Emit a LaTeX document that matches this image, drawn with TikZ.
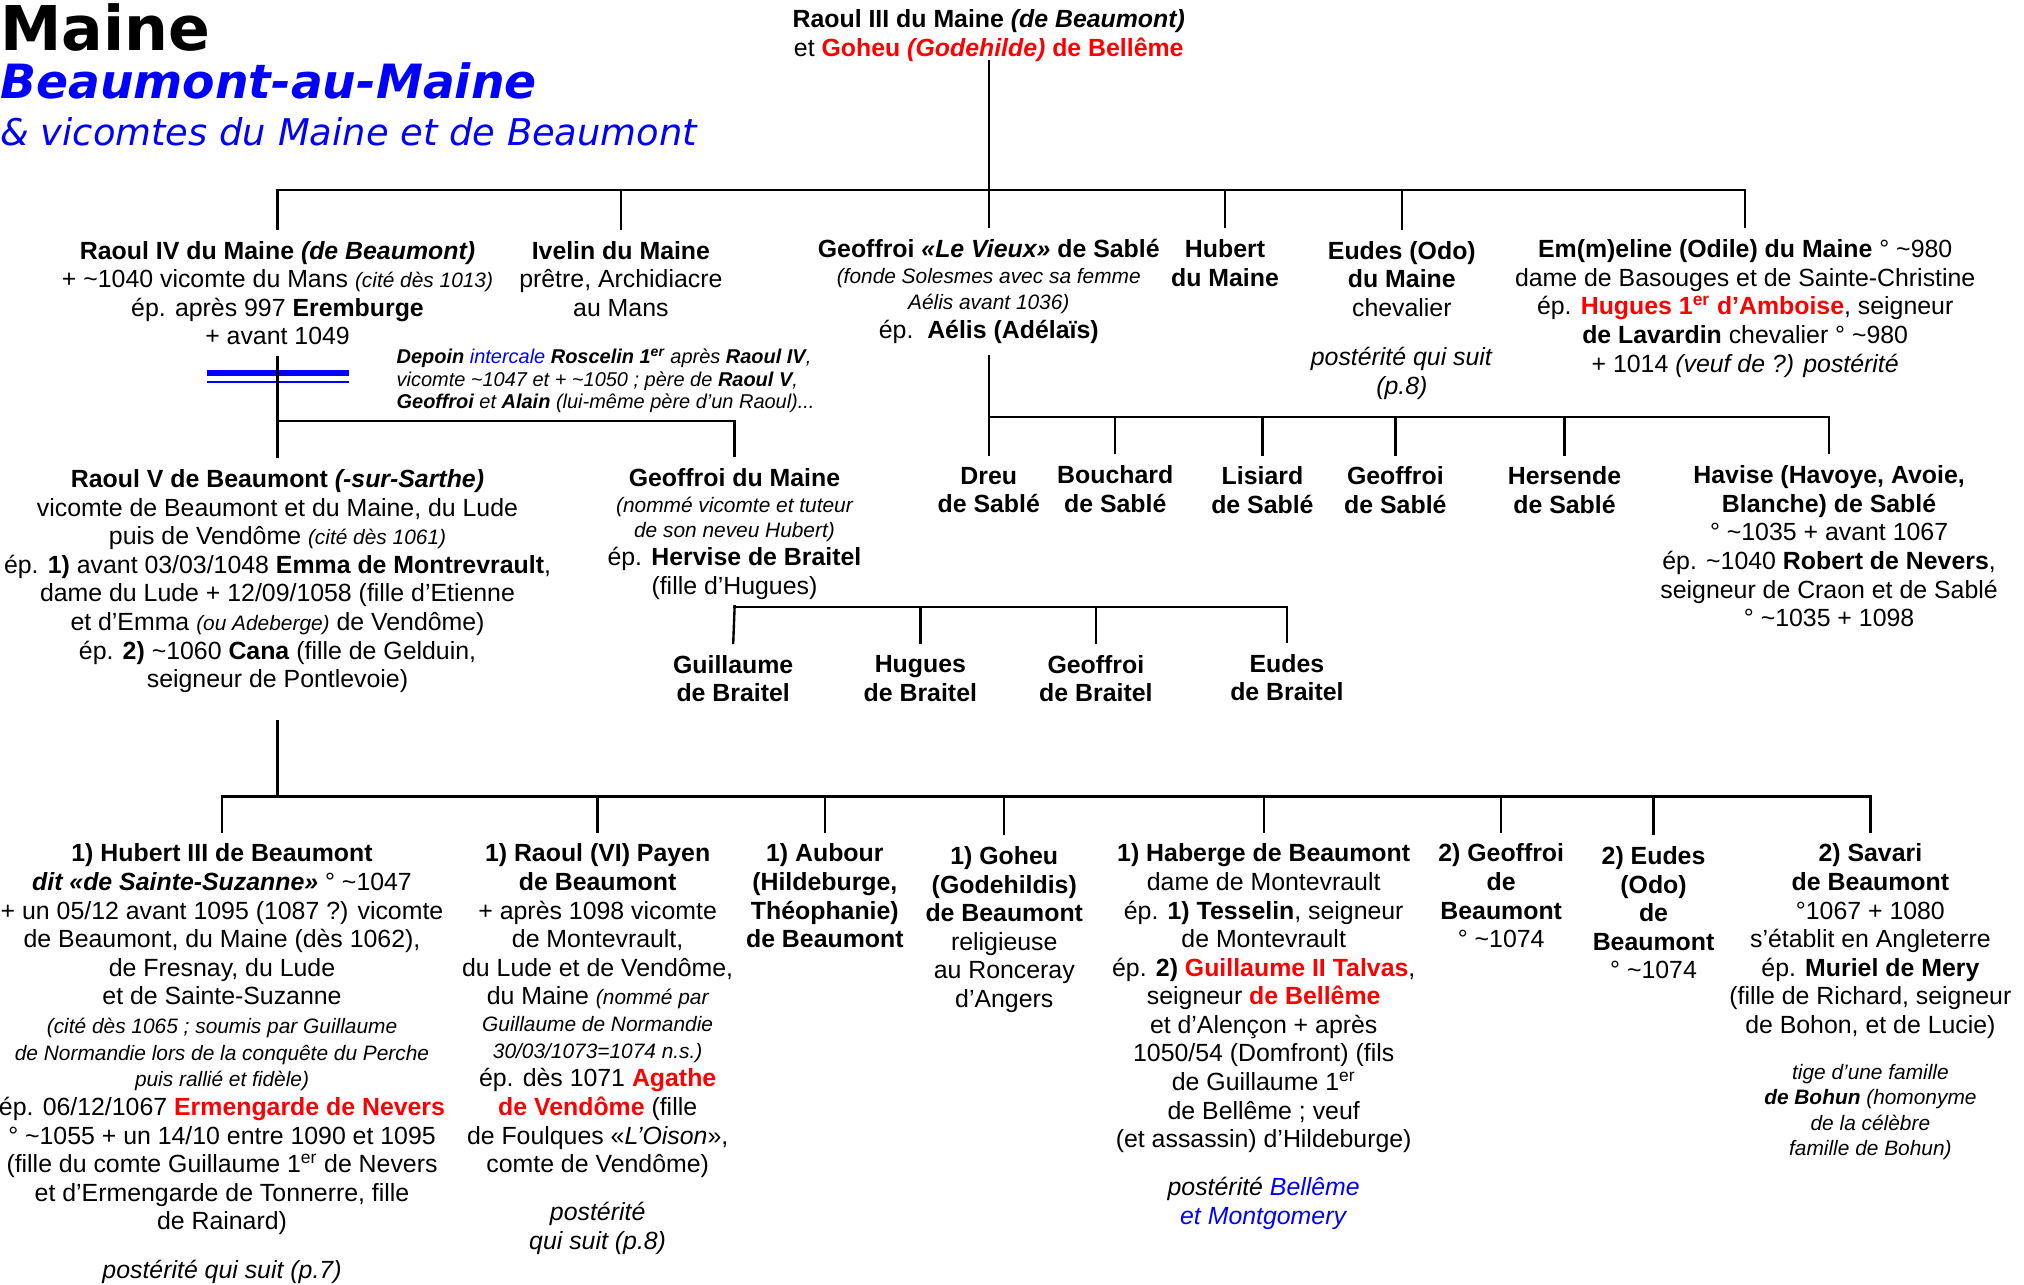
\documentclass[tikz,border=0pt]{standalone}
\usepackage{fontspec}
\setmainfont{Liberation Sans}
\newfontfamily\titlefont{DejaVu Sans}
\usepackage{tikz}

\newcommand\bodyfont{\fontsize{13.7}{15.75}\selectfont}
\newcommand\sit[1]{{\fontsize{11.5}{15.75}\selectfont\itshape #1}}
\newcommand\ca{\textasciitilde}

\tikzset{
  person/.style={align=center, anchor=north, inner xsep=0pt, inner ysep=6pt, font=\bodyfont},
  tree/.style={line width=1.3pt},
}

\begin{document}
\begin{tikzpicture}[x=0.025cm, y=-0.025cm]
    \useasboundingbox (0,0) rectangle (1568,995);

    % Titles
    \node[anchor=base west, inner sep=0pt, font=\titlefont\bfseries\fontsize{34}{34}\selectfont] (titre) at (0,39) {Maine};
    \node[anchor=base west, inner sep=0pt, text=blue, font=\titlefont\bfseries\itshape\fontsize{26}{26}\selectfont] (soustitre) at (0,76) {Beaumont-au-Maine};
    \node[anchor=base west, inner sep=0pt, text=blue, font=\titlefont\itshape\fontsize{20.3}{20}\selectfont] (vicomtes) at (0,113) {\& vicomtes du Maine et de Beaumont};

    % Raoul III
    \node[person] (raoulIII) at (766,-1) {\textbf{Raoul III du Maine \textit{(de Beaumont)}}\\
        et \textcolor{red}{\textbf{Goheu \textit{(Godehilde)} de Bellême}}};

    % Children of Raoul III
    \node[person] (raoulIV) at (215,178) {\textbf{Raoul IV du Maine \textit{(de Beaumont)}}\\
        + \ca1040 vicomte du Mans \sit{(cité dès 1013)}\\
        ép. après 997 \textbf{Eremburge}\\
        + avant 1049};
    \node[person] (ivelin) at (481,178) {\textbf{Ivelin du Maine}\\ prêtre, Archidiacre\\ au Mans};
    \node[person] (geoffroiS) at (766,177) {\textbf{Geoffroi \textit{«Le Vieux»} de Sablé}\\[-1.5pt]
        \sit{(fonde Solesmes avec sa femme}\\[-1.5pt]
        \sit{Aélis avant 1036)}\\
        ép.\ \ \textbf{Aélis (Adélaïs)}};
    \node[person] (hubert) at (949,177) {\textbf{Hubert}\\ \textbf{du Maine}};
    \node[person] (eudes) at (1086,178) {\textbf{Eudes (Odo)}\\ \textbf{du Maine}\\ chevalier\\[0.4cm]
        \textit{postérité qui suit}\\ \textit{(p.8)}};
    \node[person] (emeline) at (1352,177) {\textbf{Em(m)eline (Odile) du Maine} ° \ca980\\
        dame de Basouges et de Sainte-Christine\\
        ép. \textcolor{red}{\textbf{Hugues 1\textsuperscript{er} d’Amboise}}, seigneur\\
        \textbf{de Lavardin} chevalier ° \ca980\\
        + 1014 \textit{(veuf de ?) postérité}};

    % Depoin note
    \node[anchor=north west, inner sep=0pt, align=left, font=\fontsize{11}{12.4}\selectfont\itshape] (depoin) at (307,270) {%
        \textbf{Depoin} \textcolor{blue}{intercale} \textbf{Roscelin 1\textsuperscript{er}} après \textbf{Raoul IV},\\
        vicomte \ca1047 et + \ca1050 ; père de \textbf{Raoul V},\\
        \textbf{Geoffroi} et \textbf{Alain} (lui-même père d’un Raoul)...};

    % Children of Raoul IV
    \node[person] (raoulV) at (215,355) {\textbf{Raoul V de Beaumont \textit{(-sur-Sarthe)}}\\
        vicomte de Beaumont et du Maine, du Lude\\
        puis de Vendôme \sit{(cité dès 1061)}\\
        ép. \textbf{1)} avant 03/03/1048 \textbf{Emma de Montrevrault},\\
        dame du Lude + 12/09/1058 (fille d’Etienne\\
        et d’Emma \sit{(ou Adeberge)} de Vendôme)\\
        ép. \textbf{2)} \ca1060 \textbf{Cana} (fille de Gelduin,\\
        seigneur de Pontlevoie)};
    \node[person] (geoffroiM) at (569,354) {\textbf{Geoffroi du Maine}\\[-1.5pt]
        \sit{(nommé vicomte et tuteur}\\[-2pt]
        \sit{de son neveu Hubert)}\\
        ép. \textbf{Hervise de Braitel}\\
        (fille d’Hugues)};

    % Children of Geoffroi de Sablé
    \node[person] (dreu) at (766,353) {\textbf{Dreu}\\ \textbf{de Sablé}};
    \node[person] (bouchard) at (864,352) {\textbf{Bouchard}\\ \textbf{de Sablé}};
    \node[person] (lisiard) at (978,353) {\textbf{Lisiard}\\ \textbf{de Sablé}};
    \node[person] (geoffroiSb) at (1081,353) {\textbf{Geoffroi}\\ \textbf{de Sablé}};
    \node[person] (hersende) at (1212,353) {\textbf{Hersende}\\ \textbf{de Sablé}};
    \node[person] (havise) at (1417,352) {\textbf{Havise (Havoye, Avoie,}\\
        \textbf{Blanche) de Sablé}\\
        ° \ca1035 + avant 1067\\
        ép. \ca1040 \textbf{Robert de Nevers},\\
        seigneur de Craon et de Sablé\\
        ° \ca1035 + 1098};

    % Children of Geoffroi du Maine
    \node[person] (guillaumeB) at (568,499) {\textbf{Guillaume}\\ \textbf{de Braitel}};
    \node[person] (huguesB) at (713,499) {\textbf{Hugues}\\ \textbf{de Braitel}};
    \node[person] (geoffroiB) at (849,499) {\textbf{Geoffroi}\\ \textbf{de Braitel}};
    \node[person] (eudesB) at (997,498) {\textbf{Eudes}\\ \textbf{de Braitel}};

    % Children of Raoul V
    \node[person] (hubertIII) at (172,645) {\textbf{1) Hubert III de Beaumont}\\
        \textbf{\textit{dit «de Sainte-Suzanne»}} ° \ca1047\\
        + un 05/12 avant 1095 (1087 ?) vicomte\\
        de Beaumont, du Maine (dès 1062),\\
        de Fresnay, du Lude\\
        et de Sainte-Suzanne\\
        \sit{(cité dès 1065 ; soumis par Guillaume}\\[-1pt]
        \sit{de Normandie lors de la conquête du Perche}\\[-1pt]
        \sit{puis rallié et fidèle)}\\
        ép. 06/12/1067 \textcolor{red}{\textbf{Ermengarde de Nevers}}\\
        ° \ca1055 + un 14/10 entre 1090 et 1095\\
        (fille du comte Guillaume 1\textsuperscript{er} de Nevers\\
        et d’Ermengarde de Tonnerre, fille\\
        de Rainard)\\[0.38cm]
        \textit{postérité qui suit (p.7)}};
    \node[person] (raoulVI) at (463,645) {\textbf{1) Raoul (VI) Payen}\\
        \textbf{de Beaumont}\\
        + après 1098 vicomte\\
        de Montevrault,\\
        du Lude et de Vendôme,\\
        du Maine \sit{(nommé par}\\[-1pt]
        \sit{Guillaume de Normandie}\\[-1pt]
        \sit{30/03/1073=1074 n.s.)}\\
        ép. dès 1071 \textcolor{red}{\textbf{Agathe}}\\
        \textcolor{red}{\textbf{de Vendôme}} (fille\\
        de Foulques «\textit{L’Oison}»,\\
        comte de Vendôme)\\[0.38cm]
        \textit{postérité}\\
        \textit{qui suit (p.8)}};
    \node[person] (aubour) at (639,645) {\textbf{1) Aubour}\\ \textbf{(Hildeburge,}\\ \textbf{Théophanie)}\\ \textbf{de Beaumont}};
    \node[person] (goheu) at (778,647) {\textbf{1) Goheu}\\ \textbf{(Godehildis)}\\ \textbf{de Beaumont}\\
        religieuse\\ au Ronceray\\ d’Angers};
    \node[person] (haberge) at (979,645) {\textbf{1) Haberge de Beaumont}\\
        dame de Montevrault\\
        ép. \textbf{1) Tesselin}, seigneur\\
        de Montevrault\\
        ép. \textbf{2)} \textcolor{red}{\textbf{Guillaume II Talvas}},\\
        seigneur \textcolor{red}{\textbf{de Bellême}}\\
        et d’Alençon + après\\
        1050/54 (Domfront) (fils\\
        de Guillaume 1\textsuperscript{er}\\
        de Bellême ; veuf\\
        (et assassin) d’Hildeburge)\\[0.375cm]
        \textit{postérité \textcolor{blue}{Bellême}}\\
        \textcolor{blue}{\textit{et Montgomery}}};
    \node[person] (geoffroiBt) at (1163,645) {\textbf{2) Geoffroi}\\ \textbf{de}\\ \textbf{Beaumont}\\ ° \ca1074};
    \node[person] (eudesBt) at (1281,647) {\textbf{2) Eudes}\\ \textbf{(Odo)}\\ \textbf{de}\\ \textbf{Beaumont}\\ ° \ca1074};
    \node[person] (savari) at (1449,645) {\textbf{2) Savari}\\
        \textbf{de Beaumont}\\
        °1067 + 1080\\
        s’établit en Angleterre\\
        ép. \textbf{Muriel de Mery}\\
        (fille de Richard, seigneur\\
        de Bohon, et de Lucie)\\[0.33cm]
        \sit{tige d’une famille}\\[-1.7pt]
        \sit{\textbf{de Bohun} (homonyme}\\[-1.7pt]
        \sit{de la célèbre}\\[-1.7pt]
        \sit{famille de Bohun)}};

    % Bars
    \coordinate (barA) at (0,147);
    \coordinate (barB) at (0,326);
    \coordinate (barC) at (0,323);
    \coordinate (barD) at (0,470);
    \coordinate (barE) at (0,617);

    % Blue marks on the Raoul IV line
    \draw[blue, line width=3.3pt] (160,289) -- (270,289);
    \draw[blue, line width=0.85pt] (160,296) -- (270,296);

    % Connections
    \draw[tree, shorten <=-0.25cm] (raoulIII.south) -- (geoffroiS.north);
    \draw[tree] (raoulIV.north) -- (raoulIV.north |- barA) -- (emeline.north |- barA) -- (emeline.north);
    \foreach \n in {ivelin, hubert, eudes}
        \draw[tree] (\n.north) -- (\n.north |- barA);

    \draw[tree] (raoulIV.south) -- (raoulV.north);
    \draw[tree] (raoulV.north |- barB) -| (geoffroiM.north);

    \draw[tree] (geoffroiS.south) -- (dreu.north);
    \draw[tree] (dreu.north |- barC) -- (havise.north |- barC) -- (havise.north);
    \foreach \n in {bouchard, lisiard, geoffroiSb, hersende}
        \draw[tree] (\n.north) -- (\n.north |- barC);

    \draw[tree, shorten <=-3pt] (geoffroiM.south) -- (guillaumeB.north);
    \draw[tree] (guillaumeB.north |- barD) -- (eudesB.north |- barD) -- (eudesB.north);
    \foreach \n in {huguesB, geoffroiB}
        \draw[tree] (\n.north) -- (\n.north |- barD);

    \draw[tree, shorten <=0.3cm] (raoulV.south) -- (raoulV.south |- barE);
    \draw[tree] (hubertIII.north) -- (hubertIII.north |- barE) -- (savari.north |- barE) -- (savari.north);
    \foreach \n in {raoulVI, aubour, goheu, haberge, geoffroiBt, eudesBt}
        \draw[tree] (\n.north) -- (\n.north |- barE);

\end{tikzpicture}
\end{document}
